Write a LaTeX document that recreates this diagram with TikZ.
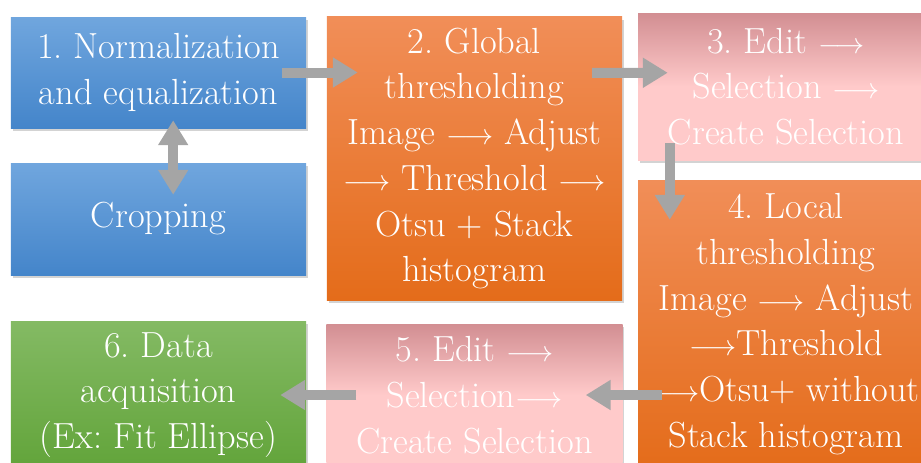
\documentclass[tikz,border=0pt]{standalone}
\usetikzlibrary{arrows.meta,positioning,shadows}
\definecolor{skytop}{RGB}{112,166,222}
\definecolor{skybot}{RGB}{68,133,202}
\definecolor{tangtop}{RGB}{241,142,88}
\definecolor{tangbot}{RGB}{228,108,26}
\definecolor{rosetop}{RGB}{210,142,146}
\definecolor{rosebot}{RGB}{255,202,202}
\definecolor{mosstop}{RGB}{132,186,100}
\definecolor{mossbot}{RGB}{98,164,58}
\definecolor{pipe}{RGB}{165,165,165}
\newcommand\ar{$\longrightarrow$}
\tikzset{
  >={Triangle[length=0.75cm,width=0.86cm]},
  stage/.style n args={2}{top color=#1,bottom color=#2,draw=none,
    minimum width=8.85cm,align=center,text=white,
    font=\rmfamily\fontsize{31}{39}\selectfont\frenchspacing,inner sep=0pt,
    drop shadow={opacity=0.35,shadow xshift=0.05cm,shadow yshift=-0.09cm}},
  pink stage/.style={top color=rosetop,bottom color=rosebot,middle color=rosebot,
    draw=none,minimum width=8.88cm,align=center,text=white,
    font=\rmfamily\fontsize{31}{39}\selectfont\frenchspacing,inner sep=0pt,
    drop shadow={opacity=0.35,shadow xshift=0.05cm,shadow yshift=-0.09cm}},
  pipe arrow/.style={->,line width=0.3cm,draw=pipe,fill=pipe},
}
\begin{document}
\begin{tikzpicture}[x=0.03cm,y=-0.03cm]
    \useasboundingbox (0,0) rectangle (921,462);
    \clip (0,0) rectangle (921,462);
    % first column
    \node[stage={skytop}{skybot},minimum height=3.33cm] (norm) at (158.5,72.5) {1. Normalization\\and equalization};
    \node[stage={skytop}{skybot},minimum height=3.36cm] (crop) at (158.5,219) {Cropping};
    \node[stage={mosstop}{mossbot},minimum height=4.44cm] (data) at (158.5,395) {6. Data\\acquisition\\(Ex: Fit Ellipse)};
    % second column
    \node[stage={tangtop}{tangbot},minimum height=8.49cm] (glob) at (474.5,158.5) {2. Global\\thresholding\\Image \ar{} Adjust\\\ar{} Threshold \ar\\Otsu + Stack\\histogram};
    \node[pink stage,minimum height=4.26cm] (sel2) at (474.5,395) {5. Edit \ar\\Selection\ar\\Create Selection};
    % third column
    \node[pink stage,minimum height=4.41cm] (sel1) at (786,86.5) {3. Edit \ar\\Selection \ar\\Create Selection};
    \node[stage={tangtop}{tangbot},minimum width=8.88cm,minimum height=8.64cm] (loc) at (786,324) {4. Local\\thresholding\\Image \ar{} Adjust\\\ar{}Threshold\\\ar{}Otsu+ without\\Stack histogram};
    % connectors
    \draw[pipe arrow,<->] ([xshift=0.44cm,yshift=0.24cm]norm.south) -- ([xshift=0.44cm,yshift=-0.96cm]crop.north);
    \draw[pipe arrow] ([xshift=-0.72cm]norm.east) -- ([xshift=0.93cm]norm.east -| glob.west);
    \draw[pipe arrow] ([xshift=-0.9cm,yshift=-1.68cm]glob.north east) -- ([xshift=0.9cm,yshift=-1.8cm]sel1.north west);
    \draw[pipe arrow] ([xshift=0.96cm,yshift=0.51cm]sel1.south west) -- ([xshift=0.96cm,yshift=-1.2cm]loc.north west);
    \draw[pipe arrow] ([xshift=0.72cm]sel2.east -| loc.west) -- ([xshift=-1.11cm]sel2.east);
    \draw[pipe arrow] ([xshift=0.9cm]sel2.west) -- ([xshift=-0.78cm]data.east);
\end{tikzpicture}
\end{document}
